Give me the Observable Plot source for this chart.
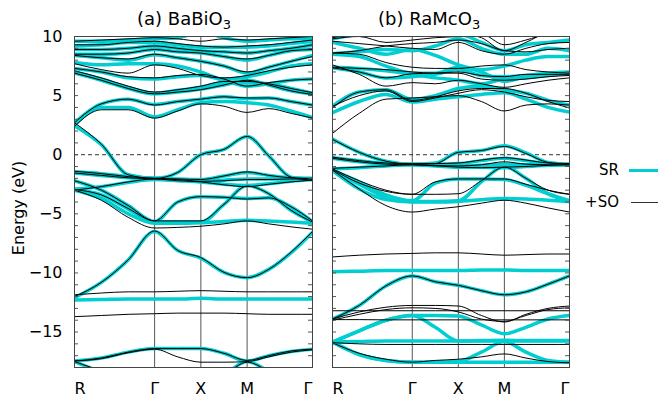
<!DOCTYPE html>
<html><head><meta charset="utf-8">
<script src="https://cdn.jsdelivr.net/npm/d3@7"></script>
<script src="https://cdn.jsdelivr.net/npm/@observablehq/plot@0.6"></script>
<style>
body{margin:0;background:#fff;font-family:"DejaVu Sans",sans-serif;}
#wrap{position:relative;width:659px;height:398px;overflow:hidden;}
.abs{position:absolute;}
.title{font-size:18px;color:#000;white-space:nowrap;line-height:1.2;}
.title sub{font-size:13px;vertical-align:-4px;line-height:0;}
.ylab{font-size:16px;color:#000;white-space:nowrap;}
.leg{font-size:15px;color:#000;text-align:right;width:60px;}
</style></head><body><div id="wrap"></div>
<script>
// k-path sample positions (R, ..., Γ, ..., X, ..., M, ..., ..., Γ)
const kSamples = [0, 0.29, 0.58, 0.866, 1.116, 1.366, 1.616, 1.866, 2.1, 2.34, 2.573];
const kTicks = [0, 0.866, 1.366, 1.866, 2.573];
const kLabels = ["R", "Γ", "X", "M", "Γ"];
const yTickLabels = [-15, -10, -5, 0, 5, 10];
const yMinorTicks = [-17,-16,-15,-14,-13,-12,-11,-10,-9,-8,-7,-6,-5,-4,-3,-2,-1,0,1,2,3,4,5,6,7,8,9];
const panelTitles = ["(a) BaBiO", "(b) RaMcO"];
const legendLabels = ["SR", "+SO"];

// ---------- (a) BaBiO3, scalar-relativistic (SR) ----------
const aSR = [
  [-17.5, -18.4, -19.2, -19.5, -19.4, -19.2, -18.6, -17.5, -18.3, -19.1, -19.5],
  [-17.45, -17.2, -16.7, -16.4, -16.4, -16.4, -16.8, -17.45, -17.0, -16.65, -16.45],
  [-12.3, -12.25, -12.2, -12.2, -12.2, -12.15, -12.2, -12.2, -12.2, -12.2, -12.2],
  [-12.1, -10.8, -8.9, -6.5, -8.1, -8.75, -9.95, -10.4, -9.7, -8.3, -6.55],
  [-3.0, -3.7, -5.0, -5.8, -5.8, -5.75, -5.65, -5.55, -5.6, -5.7, -5.8],
  [-2.95, -3.4, -4.6, -5.7, -5.7, -5.7, -4.2, -2.6, -3.3, -4.7, -5.7],
  [-2.2, -3.0, -4.3, -5.65, -4.0, -3.55, -3.6, -3.7, -3.65, -4.4, -5.65],
  [-2.9, -2.7, -2.35, -2.1, -2.2, -2.3, -2.5, -2.6, -2.45, -2.25, -2.1],
  [-1.55, -1.75, -1.95, -2.05, -2.1, -2.2, -2.15, -2.05, -2.05, -2.05, -2.05],
  [-1.45, -1.6, -1.85, -2.0, -2.05, -2.1, -1.8, -1.5, -1.75, -1.95, -2.0],
  [2.45, 0.85, -1.7, -2.0, -1.5, 0.0, 0.45, 1.55, -0.1, -1.9, -2.1],
  [2.5, 4.0, 4.0, 3.2, 3.8, 4.4, 4.5, 4.4, 4.2, 3.7, 3.15],
  [2.7, 4.3, 4.7, 4.25, 4.5, 4.7, 4.9, 4.75, 4.8, 4.5, 4.2],
  [6.9, 6.3, 5.6, 5.15, 5.3, 5.55, 5.9, 6.3, 5.9, 5.4, 5.15],
  [7.0, 6.4, 5.7, 5.2, 5.45, 5.7, 6.1, 6.1, 6.0, 5.6, 5.2],
  [7.3, 7.0, 6.5, 6.4, 6.6, 6.7, 6.3, 5.8, 6.0, 6.3, 6.4],
  [7.8, 7.6, 7.7, 7.7, 7.5, 7.0, 6.4, 6.6, 7.0, 7.5, 7.7],
  [8.4, 8.2, 8.0, 8.45, 8.2, 7.9, 7.5, 6.9, 7.4, 7.9, 8.4],
  [8.5, 8.5, 8.6, 8.9, 8.7, 8.6, 8.3, 8.0, 8.4, 8.8, 8.9],
  [8.9, 8.9, 9.0, 9.2, 9.0, 8.8, 8.7, 8.6, 8.8, 9.0, 9.3],
  [9.2, 9.3, 9.5, 9.5, 9.3, 9.1, 9.1, 9.1, 9.2, 9.4, 9.6],
  [9.6, 9.6, 9.7, 9.8, 9.9, 10.4, 9.9, 9.6, 9.7, 9.8, 9.8]
];
// ---------- (a) BaBiO3, with spin-orbit (+SO) ----------
const aSO = [
  [-17.5, -18.3, -19.1, -19.5, -19.4, -19.2, -18.6, -17.55, -18.3, -19.1, -19.5],
  [-17.45, -17.2, -16.7, -16.4, -16.4, -16.4, -16.8, -17.4, -17.0, -16.6, -16.45],
  [-17.45, -17.25, -16.75, -16.45, -17.1, -17.55, -17.55, -17.5, -17.1, -16.7, -16.5],
  [-13.7, -13.6, -13.5, -13.45, -13.4, -13.4, -13.4, -13.45, -13.5, -13.5, -13.5],
  [-11.85, -11.7, -11.6, -11.6, -11.55, -11.5, -11.55, -11.6, -11.6, -11.6, -11.6],
  [-12.0, -10.8, -8.9, -6.45, -8.1, -8.7, -9.95, -10.4, -9.7, -8.25, -6.5],
  [-3.0, -3.85, -5.3, -6.2, -6.15, -6.05, -5.85, -5.6, -5.85, -6.1, -6.3],
  [-2.95, -3.4, -4.55, -5.6, -5.6, -5.6, -4.2, -2.65, -3.3, -4.7, -5.7],
  [-2.2, -3.0, -4.3, -5.6, -4.0, -3.55, -3.6, -3.75, -3.65, -4.4, -5.6],
  [-3.0, -2.7, -2.3, -2.05, -2.2, -2.3, -2.55, -2.7, -2.5, -2.3, -2.15],
  [-1.55, -1.75, -1.95, -2.05, -2.1, -2.25, -2.2, -2.1, -2.1, -2.05, -2.05],
  [-1.4, -1.6, -1.85, -2.0, -2.05, -2.1, -1.8, -1.45, -1.75, -1.95, -2.0],
  [2.7, 0.9, -1.7, -2.0, -1.5, 0.0, 0.45, 1.55, -0.1, -1.9, -2.15],
  [2.4, 3.8, 3.8, 3.1, 3.7, 4.3, 4.1, 3.58, 3.9, 3.5, 3.1],
  [2.7, 4.3, 4.7, 4.2, 4.5, 4.7, 4.9, 4.8, 4.8, 4.5, 4.2],
  [6.9, 6.3, 5.6, 5.15, 5.3, 5.5, 5.9, 6.3, 5.9, 5.4, 5.1],
  [7.1, 6.5, 5.8, 5.3, 5.5, 5.8, 6.2, 6.2, 6.0, 5.6, 5.25],
  [7.3, 7.0, 6.6, 6.5, 6.7, 6.8, 6.4, 5.8, 6.1, 6.3, 6.4],
  [7.7, 7.2, 6.9, 7.6, 7.3, 6.7, 6.5, 6.7, 7.1, 7.4, 7.6],
  [8.4, 8.2, 8.1, 8.5, 8.2, 7.9, 7.5, 7.0, 7.4, 7.9, 8.3],
  [8.5, 8.5, 8.6, 8.9, 8.7, 8.6, 8.3, 8.1, 8.4, 8.8, 8.9],
  [8.9, 8.9, 9.0, 9.2, 9.0, 8.8, 8.7, 8.6, 8.8, 9.0, 9.3],
  [9.3, 9.3, 9.5, 9.6, 9.4, 9.2, 9.1, 9.2, 9.3, 9.5, 9.7],
  [9.6, 9.7, 9.8, 9.9, 9.8, 9.6, 9.8, 9.7, 9.8, 9.9, 10.0]
];
// ---------- (b) RaMcO3, SR ----------
const bSR = [
  [-15.85, -14.9, -14.0, -13.6, -13.6, -13.65, -14.4, -15.15, -14.6, -13.9, -13.6],
  [-15.85, -14.9, -14.0, -13.6, -14.6, -15.75, -15.75, -15.75, -15.75, -15.75, -15.75],
  [-15.85, -15.8, -15.75, -15.75, -15.75, -15.75, -15.72, -15.7, -15.72, -15.72, -15.72],
  [-15.85, -16.9, -17.4, -17.55, -17.55, -17.5, -16.7, -15.8, -16.7, -17.4, -17.55],
  [-15.85, -16.9, -17.4, -17.55, -17.55, -17.55, -17.55, -17.55, -17.55, -17.55, -17.55],
  [-13.9, -12.75, -11.1, -10.25, -10.75, -11.05, -11.5, -11.85, -11.6, -10.95, -10.25],
  [-9.9, -9.85, -9.8, -9.8, -9.8, -9.8, -9.75, -9.75, -9.8, -9.8, -9.8],
  [-1.35, -2.9, -3.8, -4.0, -4.0, -3.95, -3.8, -3.7, -3.75, -3.85, -3.95],
  [-1.3, -2.5, -3.6, -3.95, -3.95, -3.9, -2.3, -1.0, -2.0, -3.3, -3.95],
  [-1.3, -2.3, -3.4, -3.9, -2.4, -2.05, -2.05, -2.1, -2.6, -3.3, -3.9],
  [-1.2, -1.1, -0.95, -0.85, -0.95, -1.05, -1.05, -1.1, -1.0, -0.9, -0.85],
  [-0.3, -0.6, -0.8, -0.85, -0.9, -0.95, -0.9, -0.8, -0.85, -0.85, -0.85],
  [-0.25, -0.5, -0.75, -0.8, -0.8, -0.75, -0.5, -0.3, -0.5, -0.75, -0.8],
  [1.32, 0.2, -0.55, -0.8, -0.7, 0.2, 0.35, 0.75, 0.15, -0.65, -0.8],
  [3.55, 4.5, 5.1, 4.45, 4.7, 4.9, 5.1, 5.25, 4.7, 4.0, 3.6],
  [4.1, 5.3, 5.5, 4.7, 5.0, 5.6, 5.8, 5.5, 5.2, 4.6, 4.2],
  [7.35, 7.0, 6.5, 6.6, 6.8, 7.2, 6.7, 6.6, 6.7, 6.9, 7.0],
  [7.4, 7.3, 7.1, 6.8, 6.5, 6.3, 6.0, 6.4, 6.5, 6.7, 6.9],
  [8.5, 8.3, 7.5, 6.9, 6.9, 7.4, 7.0, 6.2, 6.6, 6.8, 6.9],
  [8.55, 8.7, 8.9, 8.8, 9.2, 9.8, 9.0, 8.5, 8.5, 9.0, 8.8],
  [9.5, 9.0, 8.5, 8.9, 8.4, 7.6, 7.2, 7.5, 8.0, 8.3, 8.3],
  [9.8, 10.2, 10.5, 10.3, 10.1, 10.2, 9.5, 8.8, 9.3, 9.5, 9.7]
];
// ---------- (b) RaMcO3, +SO ----------
const bSO = [
  [-13.9, -13.3, -12.9, -12.75, -12.75, -12.8, -13.6, -14.15, -13.5, -13.0, -12.8],
  [-14.0, -13.5, -13.1, -12.95, -13.0, -13.3, -13.9, -14.1, -13.6, -13.1, -12.95],
  [-13.2, -13.2, -13.2, -13.2, -13.2, -13.2, -13.2, -13.2, -13.2, -13.2, -13.2],
  [-13.95, -13.95, -13.97, -13.97, -13.97, -13.97, -13.97, -13.97, -13.97, -13.97, -13.97],
  [-15.9, -16.0, -16.05, -16.05, -16.05, -16.05, -16.05, -16.05, -16.05, -16.05, -16.05],
  [-15.9, -16.8, -17.3, -17.55, -17.4, -17.3, -17.1, -16.85, -17.2, -17.5, -17.6],
  [-13.9, -12.75, -11.1, -10.25, -10.75, -11.05, -11.5, -11.85, -11.6, -10.95, -10.25],
  [-8.65, -8.5, -8.4, -8.35, -8.3, -8.3, -8.4, -8.5, -8.45, -8.4, -8.4],
  [-1.3, -2.9, -4.3, -4.85, -4.6, -4.4, -4.1, -3.85, -4.1, -4.5, -4.85],
  [-1.25, -2.4, -3.1, -3.35, -3.35, -3.3, -2.2, -1.05, -2.0, -3.0, -3.35],
  [-1.2, -2.2, -3.0, -3.35, -2.3, -2.05, -2.05, -2.05, -2.5, -3.0, -3.35],
  [-1.15, -1.05, -0.95, -0.85, -0.95, -1.05, -1.1, -1.05, -1.0, -0.9, -0.85],
  [-0.3, -0.6, -0.8, -0.85, -0.9, -0.95, -0.85, -0.6, -0.8, -0.85, -0.85],
  [-0.2, -0.5, -0.7, -0.75, -0.75, -0.7, -0.45, -0.25, -0.45, -0.7, -0.75],
  [1.3, 0.2, -0.55, -0.8, -0.75, 0.2, 0.35, 0.7, 0.1, -0.65, -0.8],
  [1.8, 3.5, 4.7, 4.8, 4.9, 5.0, 4.5, 3.7, 4.2, 4.3, 4.2],
  [3.95, 5.3, 5.5, 4.6, 4.9, 5.4, 5.6, 5.6, 5.2, 4.5, 3.95],
  [4.1, 5.0, 5.4, 4.5, 4.8, 5.2, 5.5, 5.3, 4.9, 4.6, 4.5],
  [7.35, 7.0, 6.5, 6.85, 6.9, 7.0, 6.7, 6.6, 6.8, 6.8, 6.8],
  [7.4, 7.3, 7.2, 7.0, 6.9, 6.9, 6.4, 6.3, 6.4, 6.6, 6.7],
  [7.6, 6.8, 5.8, 6.1, 6.0, 6.3, 6.0, 5.7, 6.0, 6.3, 6.5],
  [8.6, 8.5, 7.8, 7.4, 7.3, 7.3, 7.5, 7.6, 7.2, 7.0, 6.9],
  [8.6, 8.8, 9.2, 9.4, 9.5, 9.7, 9.4, 8.8, 8.7, 8.9, 9.0],
  [9.6, 9.4, 9.2, 9.0, 8.9, 9.5, 8.8, 8.5, 9.0, 9.4, 9.5],
  [9.8, 10.0, 9.5, 9.7, 9.9, 10.0, 10.2, 9.3, 9.7, 10.2, 10.3],
  [9.9, 10.3, 10.6, 10.8, 10.5, 10.3, 9.9, 8.8, 9.5, 10.4, 10.8]
];

const SR_COLOR = "#00CED1";
const SO_COLOR = "#000000";

function rows(bands) {
  return bands.flatMap((b, i) => b.map((e, j) => ({k: kSamples[j], e, band: i})));
}

function panel(sr, so, {width, marginLeft, marginRight, showY}) {
  const innerW = width - marginLeft - marginRight;
  const fmt = d => kLabels[kTicks.indexOf(d)];
  const axisOpts = {tickSize: 0, tickPadding: 15, fontSize: 16, tickFormat: fmt, label: null};
  const marks = [
    Plot.ruleX(kTicks.slice(1, -1), {stroke: "#555", strokeWidth: 1}),
    Plot.ruleY([0], {stroke: "#000", strokeWidth: 0.8, strokeDasharray: "4,3"}),
    Plot.line(rows(sr), {x: "k", y: "e", z: "band", stroke: SR_COLOR, strokeWidth: 3.5, curve: "monotone-x", clip: true}),
    Plot.line(rows(so), {x: "k", y: "e", z: "band", stroke: SO_COLOR, strokeWidth: 1, curve: "monotone-x", clip: true}),
    Plot.tickY(yMinorTicks, {y: d => d, insetRight: innerW - 4, stroke: "#555"}),
    Plot.tickY(yMinorTicks, {y: d => d, insetLeft: innerW - 4, stroke: "#555"}),
    Plot.frame({stroke: "#444", strokeWidth: 1}),
    Plot.axisX(kTicks.slice(1, -1), axisOpts),
    Plot.axisX(kTicks.slice(0, 1), {...axisOpts, textAnchor: "start"}),
    Plot.axisX(kTicks.slice(-1), {...axisOpts, textAnchor: "end"})
  ];
  if (showY) marks.push(Plot.axisY(yTickLabels, {tickSize: 0, tickPadding: 12, fontSize: 16, label: null}));
  return Plot.plot({
    width, height: 398,
    marginTop: 36, marginBottom: 31, marginLeft, marginRight,
    style: {fontFamily: "DejaVu Sans", fontSize: "16px", background: "transparent", color: "#000"},
    x: {domain: [0, 2.573], label: null},
    y: {domain: [-18, 10], label: null, axis: showY ? undefined : null},
    marks
  });
}

const wrap = document.getElementById("wrap");
const pA = panel(aSR, aSO, {width: 322, marginLeft: 74, marginRight: 10, showY: true});
pA.style.position = "absolute"; pA.style.left = "0px"; pA.style.top = "0px";
wrap.appendChild(pA);
const pB = panel(bSR, bSO, {width: 337, marginLeft: 10, marginRight: 90, showY: false});
pB.style.position = "absolute"; pB.style.left = "322px"; pB.style.top = "0px";
wrap.appendChild(pB);

function addDiv(html, cls, left, top, extra) {
  const d = document.createElement("div");
  d.className = "abs " + cls;
  d.innerHTML = html;
  d.style.left = left + "px"; d.style.top = top + "px";
  if (extra) Object.assign(d.style, extra);
  wrap.appendChild(d);
  return d;
}
addDiv(panelTitles[0] + "<sub>3</sub>", "title", 137, 8);
addDiv(panelTitles[1] + "<sub>3</sub>", "title", 378, 8);
// y-axis title
addDiv("Energy (eV)", "ylab", 18, 208, {transform: "translate(-50%,-50%) rotate(-90deg)"});
// legend
addDiv(legendLabels[0], "leg", 559, 161);
addDiv(legendLabels[1], "leg", 559, 193);
addDiv("", "", 629, 169, {width: "29px", height: "3px", background: SR_COLOR});
addDiv("", "", 631, 202, {width: "27px", height: "1px", background: "#333"});
</script>
</body></html>
